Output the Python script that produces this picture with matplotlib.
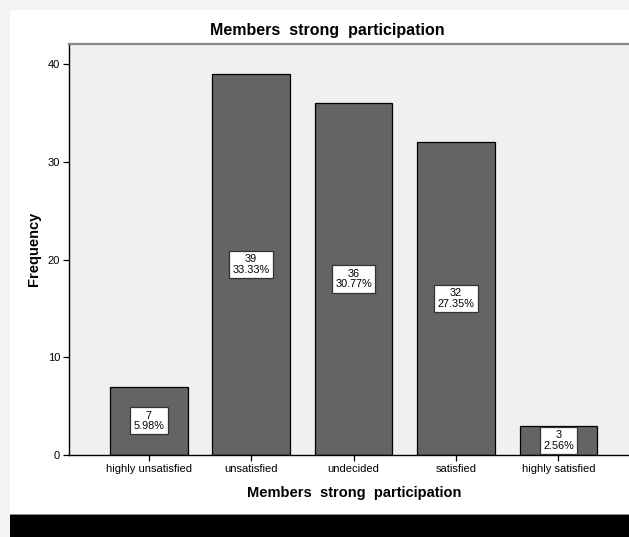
import matplotlib
matplotlib.use("Agg")
import matplotlib.pyplot as plt
from matplotlib.patches import Rectangle

plt.rcParams['font.family'] = ['Liberation Sans', 'DejaVu Sans']

categories = ["highly unsatisfied", "unsatisfied", "undecided",
              "satisfied", "highly satisfied"]
counts = [7, 39, 36, 32, 3]
percents = [5.98, 33.33, 30.77, 27.35, 2.56]
yticks = [0, 10, 20, 30, 40]

W, H = 629, 537
fig = plt.figure(figsize=(W / 100, H / 100), dpi=100)
fig.patch.set_facecolor("white")

# outer frame: light gray strips and the dark footer band
fig.add_artist(Rectangle((0, 0), 10 / W, 1, transform=fig.transFigure,
                         fc="#f3f3f3", ec="none", zorder=0))
fig.add_artist(Rectangle((0, 1 - 10 / H), 1, 10 / H, transform=fig.transFigure,
                         fc="#f3f3f3", ec="none", zorder=0))
fig.add_artist(Rectangle((10 / W, 0), 1, 22 / H, transform=fig.transFigure,
                         fc="black", ec="none", zorder=1))
fig.add_artist(Rectangle((10 / W, 22 / H), 1, 1.5 / H, transform=fig.transFigure,
                         fc="#8a8a8a", ec="none", zorder=1))

ax = fig.add_axes([69 / W, 82 / H, 1 - 69 / W + 0.01, 411 / H])
ax.set_facecolor("#f0f0f0")

x = list(range(len(categories)))
ax.bar(x, counts, width=0.76, color="#646464", edgecolor="black",
       linewidth=0.9, zorder=2)

for xi, c, p in zip(x, counts, percents):
    ax.text(xi, c / 2, f"{c}\n{p:.2f}%", ha="center", va="center",
            fontsize=7.8, linespacing=1.05, zorder=3,
            bbox=dict(boxstyle="square,pad=0.32", fc="white",
                      ec="#333333", lw=0.9))

ax.set_xlim(-0.777, 4.75)
ax.set_ylim(0, 42.05)
ax.set_xticks(x)
ax.set_xticklabels(categories, fontsize=8)
ax.set_yticks(yticks)
ax.set_yticklabels([str(t) for t in yticks], fontsize=8)
ax.tick_params(axis="both", direction="out", length=4.5, width=0.9,
               pad=2, colors="black")

ax.spines["right"].set_visible(False)
ax.spines["top"].set_color("#888888")
ax.spines["top"].set_linewidth(1.6)
ax.spines["left"].set_linewidth(1.0)
ax.spines["bottom"].set_linewidth(1.0)

fig.text(327 / W, 1 - 31 / H, "Members  strong  participation",
         ha="center", va="center", fontsize=11.5, fontweight="bold")
fig.text(354 / W, 1 - 493 / H, "Members  strong  participation",
         ha="center", va="center", fontsize=10.5, fontweight="bold")
fig.text(34 / W, 1 - 249 / H, "Frequency", ha="center", va="center",
         rotation=90, fontsize=10.5, fontweight="bold")

fig.savefig("out.png", dpi=100)
